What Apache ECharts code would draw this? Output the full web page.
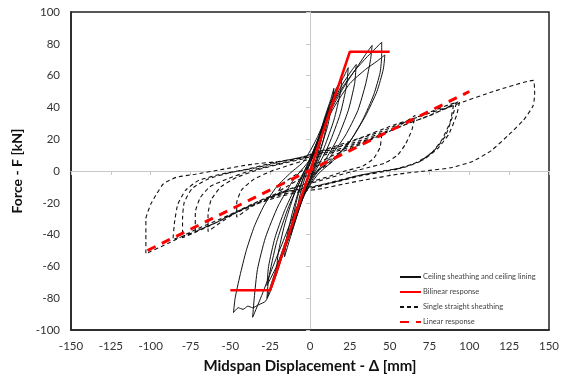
<!DOCTYPE html>
<html>
<head>
<meta charset="utf-8">
<script src="https://cdn.jsdelivr.net/npm/echarts@6/dist/echarts.min.js"></script>
<style>html,body{margin:0;padding:0;background:#fff}#c{width:566px;height:380px}</style>
</head>
<body>
<div id="c"></div>
<script>
// Tick settings
const xTicks = { min: -150, max: 150, step: 25 };
const yTicks = { min: -100, max: 100, step: 20 };

// Series names
const seriesNames = ['Ceiling sheathing and ceiling lining', 'Bilinear response', 'Single straight sheathing', 'Linear response'];

// Ceiling sheathing and ceiling lining (displacement mm, force kN)
const ceilingPts = [
[0,0],[3,9],[6,18],[8,25],[7,19],[4,8],[1,0],[-2,-7],[-5,-16],[-8,-25],[-7,-18],[-4,-7],[-1,2],
[3,12],[7,24],[10,34],[12,40],[11,32],[8,18],[4,5],[0,-5],[-4,-15],[-8,-27],[-12,-40],[-11,-31],[-8,-17],[-4,-4],[0,5],
[5,19],[9,33],[13,45],[15,52],[14,43],[11,28],[6,12],[1,-2],[-4,-15],[-9,-31],[-13,-44],[-16,-54],[-15,-44],[-11,-26],[-6,-9],[-1,4],
[5,20],[11,38],[16,51],[20,58],[19,49],[15,32],[9,15],[3,1],[-4,-16],[-10,-33],[-16,-50],[-21,-63],[-20,-52],[-16,-34],[-10,-15],[-3,1],
[4,16],[10,34],[16,50],[21,59],[24,65],[23,54],[19,36],[12,17],[5,3],[-3,-12],[-11,-32],[-18,-52],[-24,-70],[-27,-80],[-26,-68],[-21,-45],[-14,-24],[-6,-6],[0,5],
[6,22],[13,40],[20,54],[26,63],[29,67],[28,55],[24,38],[17,20],[9,6],[1,-5],[-8,-22],[-16,-42],[-24,-62],[-31,-80],[-36,-92],[-35,-80],[-33,-62],[-28,-42],[-20,-22],[-10,-5],[-1,6],
[6,22],[14,40],[22,54],[30,66],[36,75],[39,79],[38,70],[35,55],[30,38],[22,22],[12,8],[3,-3],[-6,-20],[-14,-42],[-20,-62],[-25,-76],[-28,-82],[-32,-84],[-36,-86],[-39,-85],[-42,-87],[-45,-86],[-48,-89],[-47,-80],[-44,-66],[-40,-50],[-35,-35],[-29,-22],[-21,-10],[-12,-1],[-4,6],
[4,20],[12,38],[20,52],[28,63],[36,72],[42,78],[45,81],[45,73],[44,62],[40,48],[33,32],[24,17],[14,6],[5,-2],[-3,-14],[-10,-32],[-16,-48],[-22,-62],[-27,-72],[-26,-60],[-22,-42],[-16,-25],[-9,-10],[-2,3],
[6,22],[15,40],[25,55],[35,64],[42,69],[47,73],[46,64],[42,50],[35,35],[26,20],[16,9],[6,1],[0,-4]
];

// Bilinear response
const bilinearPts = [[-50,-75],[-25,-75],[25,75],[50,75]];

// Single straight sheathing
const straightPts = [
[0,0],[6,4],[12,7],[18,10],[14,6],[8,2],[0,-2],[-8,-6],[-15,-10],[-20,-13],[-17,-8],[-10,-3],[-2,2],[5,5],
[15,10],[25,14],[35,18],[45,23],[44,15],[40,8],[33,3],[22,0],[10,-4],[0,-7],[-12,-11],[-24,-16],[-36,-22],[-46,-29],[-46,-20],[-43,-12],[-35,-5],[-24,0],[-12,4],[-2,7],
[12,11],[25,15],[38,20],[50,25],[60,31],[66,35],[64,26],[60,17],[55,10],[47,5],[36,2],[24,-1],[10,-5],[-4,-9],[-18,-13],[-32,-19],[-46,-26],[-57,-33],[-64,-38],[-64,-27],[-62,-18],[-56,-10],[-46,-4],[-32,1],[-16,5],[-3,8],
[15,14],[30,20],[45,25],[60,31],[75,37],[88,42],[92,43],[89,33],[85,22],[78,13],[69,6],[58,2],[45,0],[30,-3],[15,-7],[0,-10],[-15,-13],[-30,-18],[-45,-25],[-58,-32],[-72,-38],[-72,-26],[-69,-17],[-63,-10],[-52,-5],[-38,0],[-22,4],[-6,8],
[12,12],[28,17],[45,23],[62,30],[78,36],[94,44],[92,35],[87,23],[80,14],[71,7],[60,3],[48,0],[32,-3],[16,-7],[0,-11],[-15,-13],[-32,-20],[-48,-27],[-64,-35],[-80,-42],[-80,-30],[-79,-20],[-74,-11],[-64,-5],[-50,-1],[-34,2],[-18,6],[-4,9],
[14,15],[32,21],[50,28],[68,34],[86,40],[90,41],[88,31],[83,20],[76,11],[66,5],[54,1],[40,-1],[25,-4],[10,-8],[-6,-12],[-22,-16],[-40,-23],[-58,-32],[-74,-39],[-86,-43],[-85,-32],[-83,-21],[-78,-12],[-70,-6],[-56,-2],[-40,1],[-24,5],[-8,8],
[10,13],[28,18],[48,25],[70,33],[92,42],[115,50],[140,57],[141,48],[140,41],[134,32],[125,23],[114,13],[102,6],[88,2],[72,0],[55,-2],[38,-5],[22,-8],[8,-11],[-6,-13],[-22,-17],[-40,-23],[-56,-30],[-72,-37],[-88,-45],[-103,-52],[-103,-40],[-103,-30],[-100,-21],[-96,-14],[-92,-8],[-84,-4],[-72,-2],[-55,1],[-38,4],[-20,6],[-5,8],[5,10]
];

// Linear response
const linearPts = [[-102,-50],[100,50]];

const FONT = 'Lato, "Open Sans", sans-serif';
const chart = echarts.init(document.getElementById('c'), null, {renderer: 'canvas'});
chart.setOption({
  animation: false,
  backgroundColor: '#fff',
  grid: { left: 71, right: 17, top: 12, bottom: 50, show: true, borderColor: '#222', borderWidth: 1.5, containLabel: false },
  legend: {
    orient: 'vertical', left: 394, top: 268, itemWidth: 21, itemHeight: 8, itemGap: 7,
    data: seriesNames,
    itemStyle: { color: 'transparent', borderColor: 'transparent', borderWidth: 0 },
    textStyle: { fontFamily: FONT, fontSize: 7.5, color: '#444', padding: [0,0,0,-3] }
  },
  xAxis: [
    { type: 'value', min: xTicks.min, max: xTicks.max, interval: xTicks.step, position: 'bottom',
      name: 'Midspan Displacement - Δ [mm]', nameLocation: 'middle', nameGap: 29,
      nameTextStyle: { fontFamily: FONT, fontSize: 15, fontWeight: 'bold', color: '#111' },
      axisLine: { onZero: false, lineStyle: { color: '#222', width: 1.5 } },
      axisTick: { show: false }, splitLine: { show: false },
      axisLabel: { fontFamily: FONT, fontSize: 11.5, color: '#333', margin: 10 } },
    { type: 'value', min: xTicks.min, max: xTicks.max, interval: xTicks.step, position: 'bottom',
      axisLine: { show: true, onZero: true, onZeroAxisIndex: 0, lineStyle: { color: '#c8c8c8', width: 1 } },
      axisTick: { show: true, length: 4, lineStyle: { color: '#c8c8c8' } },
      axisLabel: { show: false }, splitLine: { show: false } }
  ],
  yAxis: [
    { type: 'value', min: yTicks.min, max: yTicks.max, interval: yTicks.step, position: 'left',
      name: 'Force - F [kN]', nameLocation: 'middle', nameGap: 36,
      nameTextStyle: { fontFamily: FONT, fontSize: 14, fontWeight: 'bold', color: '#111' },
      axisLine: { onZero: false, lineStyle: { color: '#222', width: 1.5 } },
      axisTick: { show: false }, splitLine: { show: false },
      axisLabel: { fontFamily: FONT, fontSize: 11.5, color: '#333', margin: 11 } },
    { type: 'value', min: yTicks.min, max: yTicks.max, interval: yTicks.step, position: 'left',
      axisLine: { show: true, onZero: true, onZeroAxisIndex: 0, lineStyle: { color: '#c8c8c8', width: 1 } },
      axisTick: { show: true, length: 4, lineStyle: { color: '#c8c8c8' } },
      axisLabel: { show: false }, splitLine: { show: false } }
  ],
  series: [
    { name: seriesNames[0], type: 'line', data: ceilingPts, symbol: 'none', smooth: 0.2,
      lineStyle: { color: '#111', width: 1 }, itemStyle: { color: '#111' }, z: 2 },
    { name: seriesNames[2], type: 'line', data: straightPts, symbol: 'none', smooth: 0.15,
      lineStyle: { color: '#111', width: 1.1, type: [4, 3] }, itemStyle: { color: '#111' }, z: 3 },
    { name: seriesNames[1], type: 'line', data: bilinearPts, symbol: 'none',
      lineStyle: { color: '#ff0000', width: 2.5 }, itemStyle: { color: '#ff0000' }, z: 4 },
    { name: seriesNames[3], type: 'line', data: linearPts, symbol: 'none',
      lineStyle: { color: '#ff0000', width: 3, type: [9, 7] }, itemStyle: { color: '#ff0000' }, z: 5 }
  ]
});
</script>
</body>
</html>
